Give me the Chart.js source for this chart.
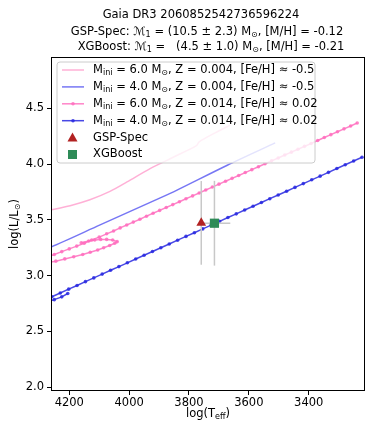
<!DOCTYPE html>
<html>
<head>
<meta charset="utf-8">
<script src="https://cdn.jsdelivr.net/npm/chart.js@4/dist/chart.umd.min.js"></script>
<style>
  body { margin: 0; background: #fff; }
  #wrap { width: 374px; height: 436px; }
</style>
</head>
<body>
<div id="wrap"><canvas id="hrd"></canvas></div>
<script>
// axis ticks
const xTicks = [4200, 4000, 3800, 3600, 3400];
const yTicks = [2.0, 2.5, 3.0, 3.5, 4.0, 4.5];

// M=6.0, Z=0.004 track (solid pink)
const pinkSolidT = [4290, 4261, 4197, 4131, 4064, 4007, 3930, 3846, 3775, 3766, 3713, 3662];
const pinkSolidL = [3.575, 3.59, 3.627, 3.68, 3.755, 3.84, 3.96, 4.07, 4.165, 4.20, 4.28, 4.35];

// M=4.0, Z=0.004 track (solid blue)
const blueSolidT = [4290, 4261, 4097, 3896, 3840, 3672, 3512];
const blueSolidL = [3.24, 3.257, 3.455, 3.697, 3.767, 3.99, 4.19];

// M=6.0, Z=0.014 track (pink with dots): first crossing and turn-back
const pinkLoopT = [4275, 4245, 4215, 4185, 4155, 4130, 4105, 4085, 4065, 4048, 4040, 4055, 4075, 4095, 4115, 4135, 4160];
const pinkLoopL = [3.115, 3.13, 3.15, 3.17, 3.19, 3.21, 3.23, 3.25, 3.27, 3.29, 3.305, 3.32, 3.325, 3.325, 3.32, 3.31, 3.295];
// ... and the rise to the right
const pinkDotT = [4275, 4250, 4225, 4200, 4175, 4150, 4125, 4100, 4075, 4052,
  4030, 4008, 3986, 3964, 3942, 3920, 3898, 3876, 3854, 3832, 3810, 3788, 3766, 3744,
  3722, 3700, 3678, 3656, 3634, 3612, 3590, 3568, 3546, 3524, 3502, 3480, 3458, 3436,
  3414, 3392, 3370, 3348, 3326, 3304, 3282, 3260, 3238];
const pinkDotL = [3.165, 3.19, 3.215, 3.24, 3.265, 3.29, 3.32, 3.345, 3.375, 3.40,
  3.428, 3.454, 3.480, 3.506, 3.533, 3.559, 3.585, 3.611, 3.637, 3.663, 3.689, 3.715, 3.741, 3.768,
  3.794, 3.820, 3.846, 3.872, 3.898, 3.924, 3.950, 3.976, 4.003, 4.029, 4.055, 4.081, 4.107, 4.133,
  4.159, 4.185, 4.211, 4.238, 4.264, 4.290, 4.316, 4.342, 4.368];

// M=4.0, Z=0.014 track (blue with dots)
const blueHookT = [4275, 4250, 4225, 4205];
const blueHookL = [2.765, 2.785, 2.81, 2.84];
const blueDotT = [4258, 4230, 4202, 4174, 4146, 4118, 4090, 4062, 4034, 4006, 3978, 3950,
  3922, 3894, 3866, 3838, 3810, 3782, 3754, 3726, 3698, 3670, 3642, 3614, 3586, 3558,
  3530, 3502, 3474, 3446, 3418, 3390, 3362, 3334, 3306, 3278, 3250, 3222];
const blueDotL = [2.811, 2.845, 2.879, 2.912, 2.946, 2.980, 3.014, 3.048, 3.081, 3.115, 3.149, 3.183,
  3.217, 3.250, 3.284, 3.318, 3.352, 3.385, 3.419, 3.453, 3.487, 3.521, 3.554, 3.588, 3.622, 3.656,
  3.690, 3.723, 3.757, 3.791, 3.825, 3.859, 3.892, 3.926, 3.960, 3.994, 4.028, 4.061];

// star estimates: [Teff, logL, errTeff, errLogL]
const gspSpec = [3759, 3.473, 0, 0.375];
const xgBoost = [3715, 3.47, 53, 0.38];

const FONT = '"DejaVu Sans", sans-serif';
const FS = 11.5;

function pts(t, l) { return t.map((v, i) => ({ x: v, y: l[i] })); }

function drawRich(ctx, parts, x, y, align, size) {
  const sub = size * 0.7;
  let w = 0;
  parts.forEach(p => {
    ctx.font = (p[1] ? sub : size) + 'px ' + FONT;
    w += ctx.measureText(p[0]).width;
  });
  let cx = align === 'center' ? x - w / 2 : x;
  ctx.textAlign = 'left';
  ctx.textBaseline = 'middle';
  parts.forEach(p => {
    ctx.font = (p[1] ? sub : size) + 'px ' + FONT;
    ctx.fillText(p[0], cx, p[1] ? y + size * 0.28 : y);
    cx += ctx.measureText(p[0]).width;
  });
}

const PINK_L = 'rgba(255,150,200,0.75)';
const BLUE_L = 'rgba(60,60,240,0.7)';
const PINK_D = 'rgba(255,110,190,0.85)';
const BLUE_D = 'rgba(40,40,225,0.85)';
const ERR = '#c8c8c8';

const legendRows = [
  { kind: 'line', color: PINK_L, text: [['M'], ['ini', 1], [' = 6.0 M'], ['\u2299', 1], [', Z = 0.004, [Fe/H] \u2248 -0.5']] },
  { kind: 'line', color: BLUE_L, text: [['M'], ['ini', 1], [' = 4.0 M'], ['\u2299', 1], [', Z = 0.004, [Fe/H] \u2248 -0.5']] },
  { kind: 'dot', color: PINK_D, text: [['M'], ['ini', 1], [' = 6.0 M'], ['\u2299', 1], [', Z = 0.014, [Fe/H] \u2248 0.02']] },
  { kind: 'dot', color: BLUE_D, text: [['M'], ['ini', 1], [' = 4.0 M'], ['\u2299', 1], [', Z = 0.014, [Fe/H] \u2248 0.02']] },
  { kind: 'tri', color: '#b22222', text: [['GSP-Spec']] },
  { kind: 'sq', color: '#2e8b57', text: [['XGBoost']] }
];

const decor = {
  id: 'decor',
  afterDatasetsDraw(chart) {
    const ctx = chart.ctx;
    ctx.save();
    // legend box
    const bx = 57, by = 62, bw = 258, bh = 101, r = 3;
    ctx.beginPath();
    ctx.moveTo(bx + r, by);
    ctx.arcTo(bx + bw, by, bx + bw, by + bh, r);
    ctx.arcTo(bx + bw, by + bh, bx, by + bh, r);
    ctx.arcTo(bx, by + bh, bx, by, r);
    ctx.arcTo(bx, by, bx + bw, by, r);
    ctx.closePath();
    ctx.fillStyle = 'rgba(255,255,255,0.8)';
    ctx.fill();
    ctx.strokeStyle = '#cccccc';
    ctx.lineWidth = 1;
    ctx.stroke();
    legendRows.forEach((row, i) => {
      const y = 70 + i * 16.9;
      if (row.kind === 'line' || row.kind === 'dot') {
        ctx.strokeStyle = row.color;
        ctx.lineWidth = 1.5;
        ctx.beginPath();
        ctx.moveTo(62, y);
        ctx.lineTo(84, y);
        ctx.stroke();
        if (row.kind === 'dot') {
          ctx.fillStyle = row.color;
          ctx.beginPath();
          ctx.arc(73, y, 1.8, 0, Math.PI * 2);
          ctx.fill();
        }
      } else if (row.kind === 'tri') {
        ctx.fillStyle = row.color;
        ctx.beginPath();
        ctx.moveTo(72.5, y - 5);
        ctx.lineTo(77.5, y + 4);
        ctx.lineTo(67.5, y + 4);
        ctx.closePath();
        ctx.fill();
      } else {
        ctx.fillStyle = row.color;
        ctx.fillRect(68, y - 4.5, 9, 9);
      }
      ctx.fillStyle = '#000';
      drawRich(ctx, row.text, 93, y, 'left', FS);
    });
    ctx.restore();
  },
  afterDraw(chart) {
    const ctx = chart.ctx;
    const a = chart.chartArea;
    ctx.save();
    ctx.strokeStyle = '#000';
    ctx.lineWidth = 1;
    ctx.strokeRect(Math.round(a.left) + 0.5, Math.round(a.top) + 0.5,
      Math.round(a.right - a.left) - 1, Math.round(a.bottom - a.top) - 1);
    ctx.fillStyle = '#000';
    drawRich(ctx, [['Gaia DR3 2060852542736596224']], 201, 15, 'center', FS);
    drawRich(ctx, [['GSP-Spec: \u2133'], ['1', 1], [' = (10.5 \u00b1 2.3) M'], ['\u2299', 1], [', [M/H] = -0.12']], 207, 32, 'center', FS);
    drawRich(ctx, [['XGBoost: \u2133'], ['1', 1], [' =   (4.5 \u00b1 1.0) M'], ['\u2299', 1], [', [M/H] = -0.21']], 211, 47, 'center', FS);
    drawRich(ctx, [['log(T'], ['eff', 1], [')']], (a.left + a.right) / 2, 414, 'center', FS);
    ctx.translate(15, (a.top + a.bottom) / 2);
    ctx.rotate(-Math.PI / 2);
    drawRich(ctx, [['log(L/L'], ['\u2299', 1], [')']], 0, 0, 'center', FS);
    ctx.restore();
  }
};

function track(t, l, color, dotted) {
  return {
    data: pts(t, l),
    showLine: true,
    borderColor: color,
    backgroundColor: color,
    borderWidth: 1.5,
    pointRadius: dotted ? 1.8 : 0,
    pointBorderWidth: 0,
    tension: dotted ? 0 : 0.3,
    clip: 0
  };
}
function errSeg(a, b) {
  return {
    data: [a, b],
    showLine: true,
    borderColor: ERR,
    borderWidth: 1.5,
    pointRadius: 0,
    clip: 0
  };
}

new Chart(document.getElementById('hrd'), {
  type: 'scatter',
  data: {
    datasets: [
      { data: [{ x: gspSpec[0], y: gspSpec[1] }], pointStyle: 'triangle', pointRadius: 5.6,
        backgroundColor: '#b22222', borderColor: '#b22222', borderWidth: 0 },
      { data: [{ x: xgBoost[0], y: xgBoost[1] }], pointStyle: 'rect', pointRadius: 6.5,
        backgroundColor: '#2e8b57', borderColor: '#2e8b57', borderWidth: 0 },
      errSeg({ x: gspSpec[0], y: gspSpec[1] - gspSpec[3] }, { x: gspSpec[0], y: gspSpec[1] + gspSpec[3] }),
      errSeg({ x: xgBoost[0], y: xgBoost[1] - xgBoost[3] }, { x: xgBoost[0], y: xgBoost[1] + xgBoost[3] }),
      errSeg({ x: xgBoost[0] - xgBoost[2], y: xgBoost[1] }, { x: xgBoost[0] + xgBoost[2], y: xgBoost[1] }),
      track(blueDotT, blueDotL, BLUE_D, true),
      track(blueHookT, blueHookL, BLUE_D, true),
      track(pinkDotT, pinkDotL, PINK_D, true),
      track(pinkLoopT, pinkLoopL, PINK_D, true),
      track(blueSolidT, blueSolidL, BLUE_L, false),
      track(pinkSolidT, pinkSolidL, PINK_L, false)
    ]
  },
  options: {
    responsive: true,
    maintainAspectRatio: false,
    animation: false,
    layout: { padding: { top: 57, right: 9, bottom: 0, left: 0 } },
    plugins: { legend: { display: false }, tooltip: { enabled: false }, title: { display: false } },
    scales: {
      x: {
        type: 'linear',
        reverse: true,
        min: 3212,
        max: 4261,
        afterBuildTicks: s => { s.ticks = xTicks.map(v => ({ value: v })); },
        afterFit: s => { s.height = 45; },
        ticks: { font: { family: FONT, size: FS }, color: '#000', padding: 1, maxRotation: 0,
          callback: v => String(v) },
        grid: { drawOnChartArea: false, tickLength: 4, color: '#000', tickWidth: 1 },
        border: { display: false }
      },
      y: {
        type: 'linear',
        min: 1.966,
        max: 4.96,
        afterBuildTicks: s => { s.ticks = yTicks.map(v => ({ value: v })); },
        afterFit: s => { s.width = 51; },
        ticks: { font: { family: FONT, size: FS }, color: '#000', padding: 3,
          callback: v => v.toFixed(1) },
        grid: { drawOnChartArea: false, tickLength: 4, color: '#000', tickWidth: 1 },
        border: { display: false }
      }
    }
  },
  plugins: [decor]
});
</script>
</body>
</html>
